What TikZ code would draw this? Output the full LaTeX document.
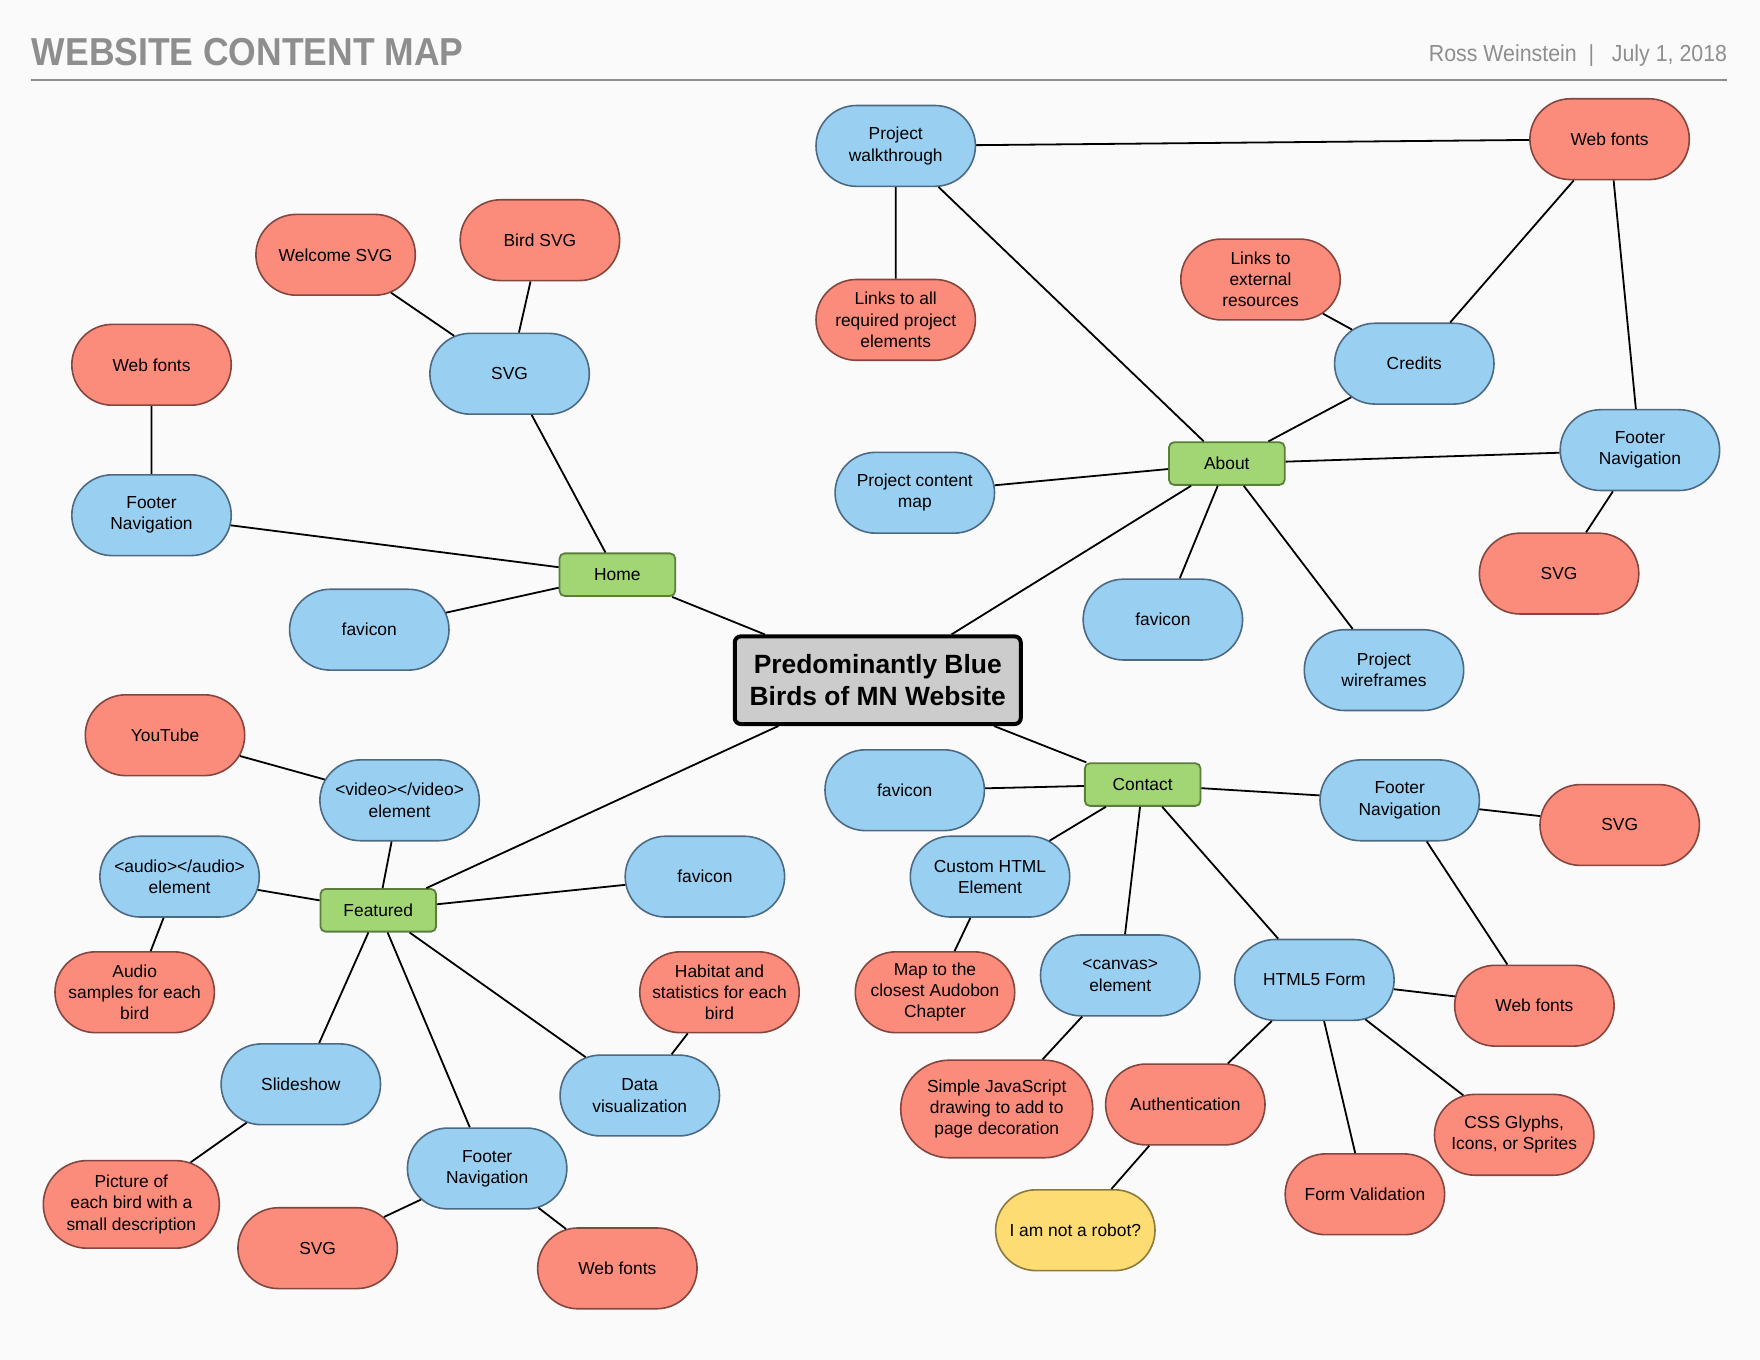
\documentclass[tikz,border=0pt]{standalone}
\usepackage{fontspec}
\setmainfont{Liberation Sans}
\usetikzlibrary{shapes.misc}
\definecolor{bluef}{HTML}{99CFF1}
\definecolor{blued}{HTML}{4C6A84}
\definecolor{redf}{HTML}{FB8C7C}
\definecolor{redd}{HTML}{84463F}
\definecolor{yelf}{HTML}{FDDC73}
\definecolor{yeld}{HTML}{8C7A3C}
\definecolor{grf}{HTML}{A2D674}
\definecolor{grd}{HTML}{5B7E3B}
\definecolor{bgc}{HTML}{FAFAFA}
\definecolor{ttl}{HTML}{8E8E8E}
\begin{document}
\begin{tikzpicture}[x=0.5612pt,y=-0.5612pt,
  base/.style={rounded rectangle, draw, line width=0.8pt, minimum width=49.7pt,
    minimum height=40.4pt, inner xsep=-15pt, inner ysep=1pt, align=center,
    font=\fontsize{8.7}{10.6}\selectfont},
  bl/.style={base, fill=bluef, draw=blued},
  rd/.style={base, fill=redf, draw=redd},
  yl/.style={base, fill=yelf, draw=yeld},
  gr/.style={rectangle, rounded corners=2.5pt, draw=grd, fill=grf, line width=0.9pt,
    minimum width=57.8pt, minimum height=21.3pt, inner sep=1pt,
    font=\fontsize{8.7}{10.6}\selectfont},
  hub/.style={rectangle, rounded corners=3pt, draw=black, fill=black!20, line width=2pt,
    minimum width=143pt, minimum height=43.8pt, align=center,
    font=\bfseries\fontsize{13.2}{16.3}\selectfont},
  ln/.style={line width=0.9pt}]
\useasboundingbox (0,0) rectangle (1568,1211.6);
\fill[bgc] (0,0) rectangle (1568,1211.6);
% header
\node[anchor=base west, inner sep=0pt, text=ttl, font=\bfseries\fontsize{19.5}{22}\selectfont] (title) at (28,58) {\scalebox{0.91}[1]{WEBSITE CONTENT MAP}};
\node[anchor=base east, inner sep=0pt, text=ttl, font=\fontsize{11.6}{13}\selectfont] (author) at (1539,55) {\scalebox{0.92}[1]{Ross Weinstein\ \ |\ \ \ July 1, 2018}};
\coordinate (hl) at (28,71);
\coordinate (hr) at (1539,71);
\draw[ttl, line width=1.1pt] (hl) -- (hr);
% hub and sections
\node[hub] (c) at (782,606) {Predominantly Blue\\Birds of MN Website};
\node[gr] (home) at (550,512) {Home};
\node[gr] (about) at (1093,413) {About};
\node[gr] (contact) at (1018,699) {Contact};
\node[gr] (feat) at (337,811) {Featured};
% home
\node[bl] (hsvg) at (454,333) {SVG};
\node[rd] (welc) at (299,227) {Welcome SVG};
\node[rd] (bird) at (481,214) {Bird SVG};
\node[bl] (hfoot) at (135,459) {Footer\\Navigation};
\node[rd] (hweb) at (135,325) {Web fonts};
\node[bl] (hfav) at (329,561) {favicon};
% about
\node[bl] (walk) at (798,130) {Project\\walkthrough};
\node[rd] (links) at (798,285) {Links to all\\required project\\elements};
\node[rd] (aweb) at (1434,124) {Web fonts};
\node[rd] (ext) at (1123,249) {Links to\\external\\resources};
\node[bl] (cred) at (1260,324) {Credits};
\node[bl] (afoot) at (1461,401) {Footer\\Navigation};
\node[rd] (asvg) at (1389,511) {SVG};
\node[bl] (pcm) at (815,439) {Project content\\map};
\node[bl] (afav) at (1036,552) {favicon};
\node[bl] (wire) at (1233,597) {Project\\wireframes};
% featured
\node[bl] (video) at (356,713) {<video></video>\\element};
\node[rd] (yt) at (147,655) {YouTube};
\node[bl] (audio) at (160,781) {<audio></audio>\\element};
\node[rd] (asamp) at (120,884) {Audio\\samples for each\\bird};
\node[bl] (ffav) at (628,781) {favicon};
\node[rd] (habit) at (641,884) {Habitat and\\statistics for each\\bird};
\node[bl] (slide) at (268,966) {Slideshow};
\node[rd, minimum width=58pt, minimum height=43.8pt] (pic) at (117,1073) {Picture of\\each bird with a\\small description};
\node[bl] (dviz) at (570,976) {Data\\visualization};
\node[bl] (ffoot) at (434,1041) {Footer\\Navigation};
\node[rd] (fsvg) at (283,1112) {SVG};
\node[rd] (fweb) at (550,1130) {Web fonts};
% contact
\node[bl] (cfav) at (806,704) {favicon};
\node[bl] (chtml) at (882,781) {Custom HTML\\Element};
\node[rd] (map) at (833,884) {Map to the\\closest Audobon\\Chapter};
\node[bl] (cfoot) at (1247,713) {Footer\\Navigation};
\node[rd] (csvg) at (1443,735) {SVG};
\node[bl] (canvas) at (998,869) {<canvas>\\element};
\node[rd, minimum width=66pt, minimum height=48.8pt] (js) at (888,988) {Simple JavaScript\\drawing to add to\\page decoration};
\node[bl] (form) at (1171,873) {HTML5 Form};
\node[rd] (cweb) at (1367,896) {Web fonts};
\node[rd] (auth) at (1056,984) {Authentication};
\node[rd] (css) at (1349,1011) {CSS Glyphs,\\Icons, or Sprites};
\node[rd] (valid) at (1216,1064) {Form Validation};
\node[yl] (robot) at (958,1096) {I am not a robot?};
% connectors
\draw[ln] (c) -- (home);
\draw[ln] (c) -- (about);
\draw[ln] (c) -- (feat);
\draw[ln] (c) -- (contact);
\draw[ln] (home) -- (hsvg);
\draw[ln] (hsvg) -- (welc);
\draw[ln] (hsvg) -- (bird);
\draw[ln] (home) -- (hfoot);
\draw[ln] (hfoot) -- (hweb);
\draw[ln] (home) -- (hfav);
\draw[ln] (about) -- (walk);
\draw[ln] (walk) -- (links);
\draw[ln] (walk) -- (aweb);
\draw[ln] (aweb) -- (cred);
\draw[ln] (aweb) -- (afoot);
\draw[ln] (cred) -- (ext);
\draw[ln] (cred) -- (about);
\draw[ln] (about) -- (pcm);
\draw[ln] (about) -- (afoot);
\draw[ln] (afoot) -- (asvg);
\draw[ln] (about) -- (afav);
\draw[ln] (about) -- (wire);
\draw[ln] (feat) -- (video);
\draw[ln] (video) -- (yt);
\draw[ln] (feat) -- (audio);
\draw[ln] (audio) -- (asamp);
\draw[ln] (feat) -- (ffav);
\draw[ln] (feat) -- (slide);
\draw[ln] (slide) -- (pic);
\draw[ln] (feat) -- (ffoot);
\draw[ln] (ffoot) -- (fsvg);
\draw[ln] (ffoot) -- (fweb);
\draw[ln] (feat) -- (dviz);
\draw[ln] (dviz) -- (habit);
\draw[ln] (contact) -- (cfav);
\draw[ln] (contact) -- (chtml);
\draw[ln] (chtml) -- (map);
\draw[ln] (contact) -- (cfoot);
\draw[ln] (cfoot) -- (csvg);
\draw[ln] (cfoot) -- (cweb);
\draw[ln] (contact) -- (canvas);
\draw[ln] (canvas) -- (js);
\draw[ln] (contact) -- (form);
\draw[ln] (form) -- (cweb);
\draw[ln] (form) -- (auth);
\draw[ln] (auth) -- (robot);
\draw[ln] (form) -- (css);
\draw[ln] (form) -- (valid);
\end{tikzpicture}
\end{document}
